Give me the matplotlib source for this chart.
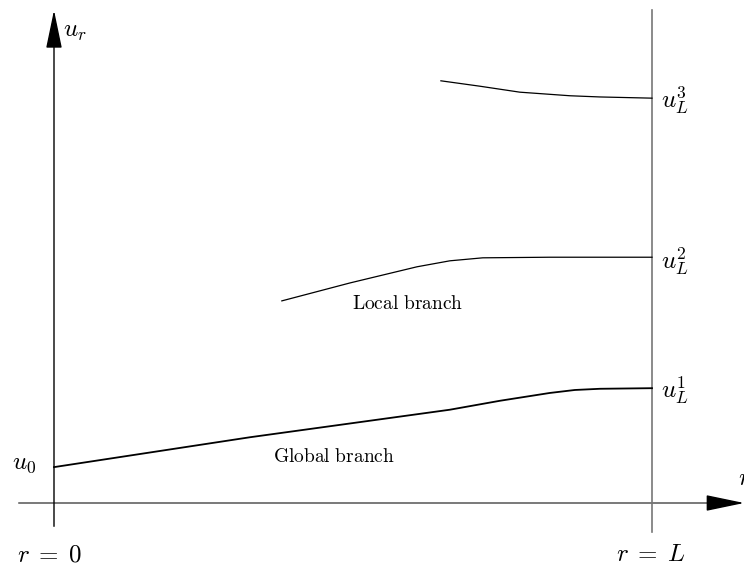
"""
示意图：全局分支与局部分支 u_r(r)
"""
import matplotlib
matplotlib.use("Agg")
import matplotlib.pyplot as plt

plt.rcParams["mathtext.fontset"] = "cm"

# 数据（r 以 L 归一化，u 使用同一比例）
global_r = [0.0, 0.328, 0.662, 0.746, 0.829, 0.871, 0.913, 1.0]
global_u = [0.060, 0.110, 0.156, 0.171, 0.184, 0.189, 0.191, 0.192]

local2_r = [0.381, 0.495, 0.607, 0.662, 0.717, 0.829, 1.0]
local2_u = [0.338, 0.368, 0.395, 0.405, 0.410, 0.411, 0.411]

local3_r = [0.647, 0.712, 0.779, 0.863, 0.913, 1.0]
local3_u = [0.706, 0.697, 0.687, 0.681, 0.679, 0.677]

u_levels = {"1": 0.187, "2": 0.403, "3": 0.672}

fig = plt.figure(figsize=(7.44, 5.67), dpi=100)
ax = fig.add_axes([0, 0, 1, 1])
ax.set_xlim(-54 / 598, 690 / 598)
ax.set_ylim(-64 / 598, 503 / 598)
ax.set_aspect("equal")
ax.axis("off")

# 坐标轴
arrow = dict(arrowstyle="-|>,head_length=1.2,head_width=0.25", color="black",
             lw=1.0, mutation_scale=20, shrinkA=0, shrinkB=0)
ax.annotate("", xy=(0, 0.824), xytext=(0, -0.039), arrowprops=arrow,
            annotation_clip=False)
ax.plot([-0.059, 1.12], [0, 0], color="#555555", lw=1.1)
ax.annotate("", xy=(1.154, 0), xytext=(1.10, 0), arrowprops=arrow,
            annotation_clip=False)
ax.plot([1, 1], [-0.0485, 0.824], color="#777777", lw=1.2)

# 曲线
ax.plot(global_r, global_u, color="black", lw=1.3)
ax.plot(local2_r, local2_u, color="black", lw=0.9)
ax.plot(local3_r, local3_u, color="black", lw=0.9)

# 标注
fs = 18
ax.text(0.015, 0.789, r"$u_r$", fontsize=fs, ha="left", va="center")
ax.text(-0.030, 0.067, r"$u_0$", fontsize=fs, ha="right", va="center")
ax.text(-0.0067, -0.086, r"$r\;=\;0$", fontsize=fs, ha="center", va="center")
ax.text(0.998, -0.086, r"$r\;=\;L$", fontsize=fs, ha="center", va="center")
for k, u in u_levels.items():
    ax.text(1.015, u, r"$u_L^{%s}$" % k, fontsize=fs, ha="left", va="center")
ax.text(1.144, 0.042, r"$r$", fontsize=fs, ha="left", va="center")
ax.text(0.592, 0.334, r"$\mathrm{Local\ branch}$", fontsize=14,
        ha="center", va="center")
ax.text(0.468, 0.077, r"$\mathrm{Global\ branch}$", fontsize=14,
        ha="center", va="center")

plt.savefig("out.png", dpi=100)
plt.close()
